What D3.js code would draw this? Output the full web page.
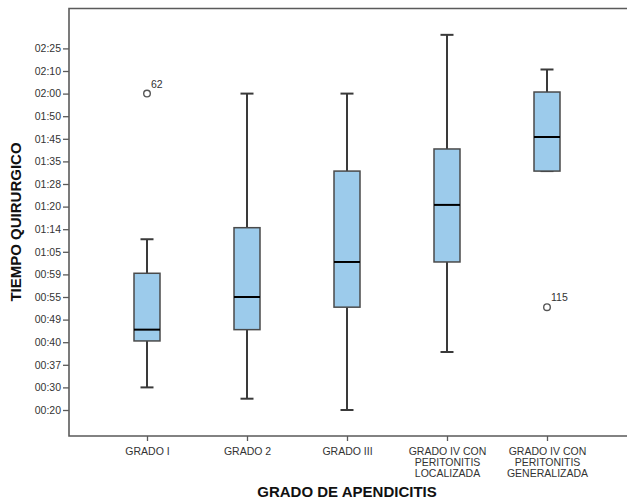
<!DOCTYPE html>
<html>
<head>
<meta charset="utf-8">
<script src="https://cdn.jsdelivr.net/npm/d3@7"></script>
<style>
  html, body { margin: 0; padding: 0; background: #fff; }
  svg { display: block; font-family: "Liberation Sans", Arial, sans-serif; }
</style>
</head>
<body>
<svg id="chart" width="627" height="504"></svg>
<script>
// ---- data ----
const categories = ["GRADO I", "GRADO 2", "GRADO III", "GRADO IV CON PERITONITIS LOCALIZADA", "GRADO IV CON PERITONITIS GENERALIZADA"];
const categoryLines = [["GRADO I"], ["GRADO 2"], ["GRADO III"], ["GRADO IV CON", "PERITONITIS", "LOCALIZADA"], ["GRADO IV CON", "PERITONITIS", "GENERALIZADA"]];
// values in minutes
const whiskerLow  = [30, 25, 20, 38.7, 92];
const q1          = [40.5, 45, 52.3, 62.3, 92];
const median      = [45, 55, 62.3, 80.6, 105.4];
const q3          = [59.3, 74.4, 92, 100.5, 120.7];
const whiskerHigh = [70, 120, 120, 154, 131];
const outlierCategory = ["GRADO I", "GRADO IV CON PERITONITIS GENERALIZADA"];
const outlierValue = [120, 52.3];
const outlierLabel = ["62", "115"];
const yTickLabels = ["00:20", "00:30", "00:37", "00:40", "00:49", "00:55", "00:59", "01:05", "01:14", "01:20", "01:28", "01:35", "01:45", "01:50", "02:00", "02:10", "02:25"];
const xTitle = "GRADO DE APENDICITIS";
const yTitle = "TIEMPO QUIRURGICO";

// ---- layout ----
const W = 627, H = 504;
const plot = { left: 69, right: 625, top: 8.5, bottom: 436 };
const firstTickY = 410, lastTickY = 48.4;

const svg = d3.select("#chart");

const tickMinutes = yTickLabels.map(s => { const [h, m] = s.split(":").map(Number); return h * 60 + m; });
const n = tickMinutes.length;
const y = d3.scaleLinear()
  .domain(tickMinutes)
  .range(tickMinutes.map((_, i) => firstTickY - i * (firstTickY - lastTickY) / (n - 1)));

const x = d3.scalePoint()
  .domain(categories)
  .range([plot.left, plot.right])
  .padding(0.78);

const axisColor = "#5a5a5a";
const textColor = "#333";

// frame: top, left, bottom
svg.append("path")
  .attr("d", `M${W},${plot.top}H${plot.left}V${plot.bottom}H${W}`)
  .attr("fill", "none")
  .attr("stroke", axisColor)
  .attr("stroke-width", 1.6);

// y axis ticks
const yAxis = d3.axisLeft(y)
  .tickValues(tickMinutes)
  .tickFormat((d, i) => yTickLabels[i])
  .tickSize(6)
  .tickPadding(2);
const gy = svg.append("g").attr("transform", `translate(${plot.left},0)`).call(yAxis);
gy.select(".domain").remove();
gy.selectAll(".tick line").attr("stroke", axisColor).attr("stroke-width", 1.3);
gy.selectAll(".tick text")
  .attr("fill", textColor)
  .style("font-size", "10.5px")
  .style("font-family", "'Liberation Sans', Arial, sans-serif");

// x axis ticks
const xAxis = d3.axisBottom(x).tickSize(5).tickFormat("");
const gx = svg.append("g").attr("transform", `translate(0,${plot.bottom})`).call(xAxis);
gx.select(".domain").remove();
gx.selectAll(".tick line").attr("stroke", axisColor).attr("stroke-width", 1.3);
gx.selectAll(".tick").each(function (d, i) {
  const t = d3.select(this).append("text")
    .attr("fill", textColor)
    .attr("text-anchor", "middle")
    .style("font-size", "10.5px")
    .style("font-family", "'Liberation Sans', Arial, sans-serif");
  categoryLines[i].forEach((line, k) => {
    t.append("tspan").attr("x", 0).attr("y", 19 + k * 11).text(line);
  });
});

// boxes
const boxW = 26, capW = 13;
const boxes = svg.append("g");
categories.forEach((c, i) => {
  const cx = x(c);
  const g = boxes.append("g");
  g.append("line").attr("x1", cx).attr("x2", cx).attr("y1", y(whiskerHigh[i])).attr("y2", y(q3[i]))
    .attr("stroke", "#3a3a3a").attr("stroke-width", 2);
  g.append("line").attr("x1", cx).attr("x2", cx).attr("y1", y(q1[i])).attr("y2", y(whiskerLow[i]))
    .attr("stroke", "#3a3a3a").attr("stroke-width", 2);
  [whiskerHigh[i], whiskerLow[i]].forEach(v => {
    g.append("line").attr("x1", cx - capW / 2).attr("x2", cx + capW / 2).attr("y1", y(v)).attr("y2", y(v))
      .attr("stroke", "#3a3a3a").attr("stroke-width", 2);
  });
  g.append("rect")
    .attr("x", cx - boxW / 2).attr("width", boxW)
    .attr("y", y(q3[i])).attr("height", y(q1[i]) - y(q3[i]))
    .attr("fill", "#9ccbeb").attr("stroke", "#4a4a4a").attr("stroke-width", 1.5);
  g.append("line").attr("x1", cx - boxW / 2).attr("x2", cx + boxW / 2).attr("y1", y(median[i])).attr("y2", y(median[i]))
    .attr("stroke", "#000").attr("stroke-width", 2);
});

// outliers
outlierCategory.forEach((c, i) => {
  const cx = x(c), cy = y(outlierValue[i]);
  svg.append("circle").attr("cx", cx).attr("cy", cy).attr("r", 3.3)
    .attr("fill", "none").attr("stroke", "#555").attr("stroke-width", 1.4);
  svg.append("text").attr("x", cx + 4).attr("y", cy - 6)
    .attr("fill", textColor).style("font-size", "10.5px").text(outlierLabel[i]);
});

// titles
svg.append("text")
  .attr("x", 347).attr("y", 497)
  .attr("text-anchor", "middle").attr("fill", "#111")
  .style("font-size", "15px").style("font-weight", "bold")
  .text(xTitle);
svg.append("text")
  .attr("transform", `translate(21,222) rotate(-90)`)
  .attr("text-anchor", "middle").attr("fill", "#111")
  .style("font-size", "15px").style("font-weight", "bold")
  .text(yTitle);
</script>
</body>
</html>
